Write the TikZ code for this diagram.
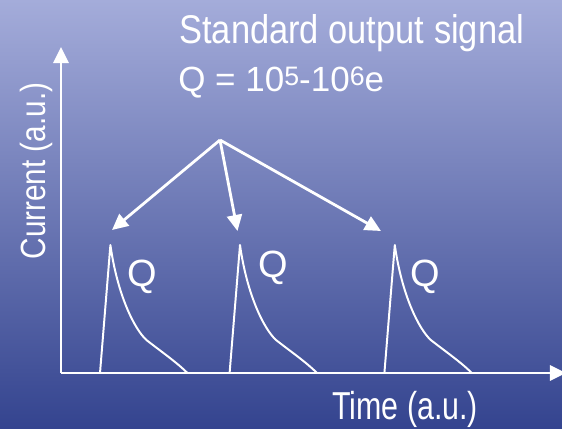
\documentclass[tikz,border=0pt]{standalone}
\usepackage{fontspec}
\setmainfont{Liberation Sans}
\newfontfamily\titlefont[FakeStretch=0.86]{Liberation Sans}
\newfontfamily\curfont[FakeStretch=0.85]{Liberation Sans}
\newfontfamily\timefont[FakeStretch=0.78]{Liberation Sans}
\usetikzlibrary{arrows.meta}
\definecolor{bgtop}{RGB}{164,172,218}
\definecolor{bgbot}{RGB}{52,68,143}
\newcommand{\upnum}[1]{\raisebox{4.4pt}{\fontsize{19}{19}\selectfont #1}}

\begin{document}
\begin{tikzpicture}[
  axisline/.style={white, line width=2.1pt, -{Triangle[width=10.7pt,length=11.4pt]}},
  pointer/.style={white, line width=2pt, -{Triangle[width=10.7pt,length=11.4pt]}},
  pulse/.style={white, line width=1.4pt, line join=round},
  lbl/.style={text=white, inner sep=0pt}
]
\shade[top color=bgtop, bottom color=bgbot] (0,0) rectangle (14.05,10.7);
\useasboundingbox (0,0) rectangle (14.05,10.7);

%axes
\coordinate (o) at (1.525,1.375);
\coordinate (ytop) at (1.525,9.525);
\coordinate (xend) at (14.15,1.375);
\draw[axisline] (o) -- (ytop);
\draw[axisline] (o) -- (xend);
\node[lbl, anchor=base, rotate=90] (current) at (1.125,6.425) {\curfont\fontsize{24.9}{24.9}\selectfont Current (a.u.)};
\node[lbl, anchor=base west] (time) at (8.3,0.21) {\timefont\fontsize{27.7}{27.7}\selectfont Time (a.u.)};

%pulses
\foreach \p in {2.76,6.0,9.87}{
  \draw[pulse] (\p-0.26,1.375) -- (\p,4.575)
    .. controls (\p+0.175,3.325) and (\p+0.6,2.475) .. (\p+0.9,2.2)
    .. controls (\p+1.25,1.925) and (\p+1.65,1.65) .. (\p+1.925,1.375);
}
\node[lbl, anchor=base west] (q1) at (3.175,3.55) {\fontsize{27}{27}\selectfont Q};
\node[lbl, anchor=base west] (q2) at (6.45,3.775) {\fontsize{27}{27}\selectfont Q};
\node[lbl, anchor=base west] (q3) at (10.25,3.55) {\fontsize{27}{27}\selectfont Q};

%title
\node[lbl, anchor=base west] (title) at (4.475,9.6) {\titlefont\fontsize{28.5}{28.5}\selectfont Standard output signal};
\node[lbl, anchor=base west] (charge) at (4.45,8.4) {\fontsize{24.9}{24.9}\selectfont Q = 10\upnum{5}-10\upnum{6}e};

%arrows
\coordinate (src) at (5.5,7.2);
\coordinate (tip1) at (2.8,4.95);
\coordinate (tip2) at (5.9375,4.925);
\coordinate (tip3) at (9.525,4.925);
\draw[pointer] (src) -- (tip1);
\draw[pointer] (src) -- (tip2);
\draw[pointer] (src) -- (tip3);

\end{tikzpicture}
\end{document}
